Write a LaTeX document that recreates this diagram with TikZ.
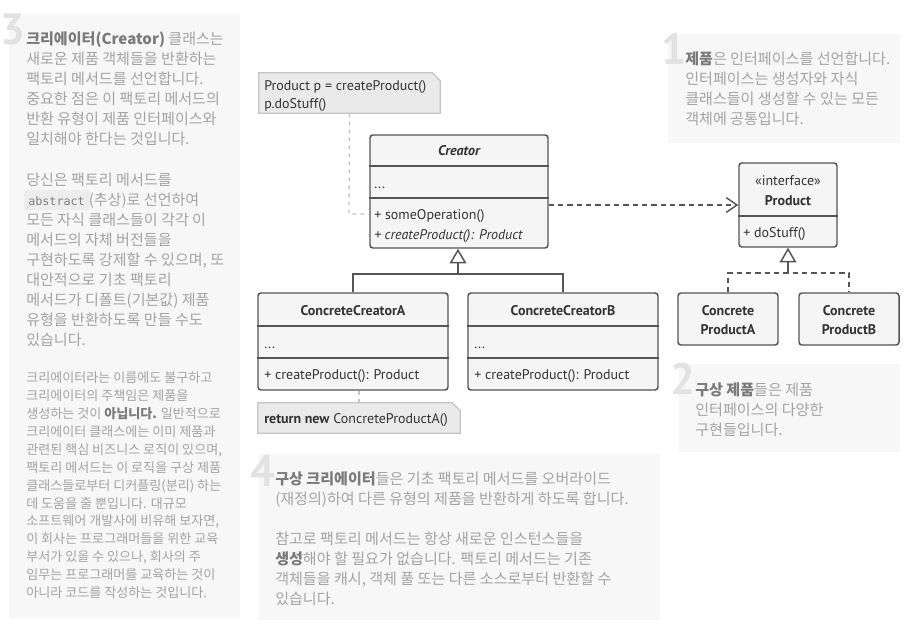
\documentclass[tikz,border=0pt]{standalone}
\usepackage{fontspec}
\setmainfont{PT Sans}
\newfontfamily\ko{Noto Sans CJK KR}
\newfontfamily\monof{DejaVu Sans Mono}
\usetikzlibrary{arrows.meta,calc}
\definecolor{panelc}{HTML}{F7F7F8}
\definecolor{numc}{HTML}{E2E2E2}
\definecolor{txtc}{HTML}{A3A3A3}
\definecolor{boldc}{HTML}{7A7A7A}
\definecolor{linec}{HTML}{555555}
\definecolor{boxc}{HTML}{F5F5F5}
\definecolor{notec}{HTML}{EAEAEA}
\definecolor{notel}{HTML}{C4C4C4}
\definecolor{umltxt}{HTML}{333333}
\newcommand{\bk}[1]{{\color{boldc}\bfseries #1}}
\tikzset{
  panel/.style={fill=panelc,draw=none},
  num/.style={anchor=base west,inner sep=0,text=numc,font=\fontsize{33pt}{33pt}\selectfont\bfseries},
  ko/.style={anchor=base west,inner sep=0,text=txtc,font=\ko\fontsize{11.3pt}{13pt}\selectfont},
  kos/.style={anchor=base west,inner sep=0,text=txtc,font=\ko\fontsize{9.8pt}{11pt}\selectfont},
  umlbox/.style={draw=linec,fill=boxc,line width=1.1pt,rounded corners=2.2pt,inner sep=0},
  divl/.style={draw=linec,line width=1.1pt},
  ut/.style={anchor=base west,inner sep=0,text=umltxt,font=\fontsize{10.5pt}{12pt}\selectfont},
  uc/.style={anchor=base,inner sep=0,text=umltxt,font=\fontsize{10.5pt}{12pt}\selectfont\bfseries},
  notebox/.style={draw=none,inner sep=0},
  noteshape/.style={fill=notec,draw=notel,line width=1pt},
  notelink/.style={draw=notel,line width=1pt,dash pattern=on 3pt off 3pt},
  inh/.style={draw=linec,line width=1.1pt},
  inhd/.style={draw=linec,line width=1.1pt,dash pattern=on 4pt off 3pt},
  tri/.style={-{Triangle[open,length=11pt,width=12.5pt,line width=1.1pt]}},
  dep/.style={draw=linec,line width=1.1pt,dash pattern=on 4pt off 3pt,-{Straight Barb[length=8pt,width=11pt,line width=1.1pt]}}
}
\begin{document}
\begin{tikzpicture}[x=0.75pt,y=-0.75pt]
\useasboundingbox (0,0) rectangle (912,628);
\fill[white] (0,0) rectangle (912,628);
% panels
\fill[panel] (9,14) rectangle (240,618);
\fill[panel] (668,34) rectangle (900,143);
\fill[panel] (679,364) rectangle (900,452);
\fill[panel] (259,454) rectangle (660,620);
% numbers
\node[num] (n3) at (0,44) {3};
\node[num] (n1) at (661,64) {1};
\node[num] (n2) at (670,394) {2};
\node[num] (n4) at (250,486) {4};
% panel 3 text
\node[ko] (p3a) at (26,44) {\bk{크리에이터(Creator)} 클래스는};
\node[ko] (p3b) at (26,64) {새로운 제품 객체들을 반환하는};
\node[ko] (p3c) at (26,84) {팩토리 메서드를 선언합니다.};
\node[ko] (p3d) at (26,104) {중요한 점은 이 팩토리 메서드의};
\node[ko] (p3e) at (26,124) {반환 유형이 제품 인터페이스와};
\node[ko] (p3f) at (26,144) {일치해야 한다는 것입니다.};
\node[ko] (p3g) at (26,185) {당신은 팩토리 메서드를};
\fill[fill=black!7,rounded corners=1.5pt] (24,190) rectangle (90,210);
\node[ko] (p3h) at (28,205) {{\monof\fontsize{8.8pt}{10pt}\selectfont\color{black!50}abstract}\hspace{3pt}(추상)로 선언하여};
\node[ko] (p3i) at (26,225) {모든 자식 클래스들이 각각 이};
\node[ko] (p3j) at (26,245) {메서드의 자체 버전들을};
\node[ko] (p3k) at (26,265) {구현하도록 강제할 수 있으며, 또};
\node[ko] (p3l) at (26,285) {대안적으로 기초 팩토리};
\node[ko] (p3m) at (26,305) {메서드가 디폴트(기본값) 제품};
\node[ko] (p3n) at (26,325) {유형을 반환하도록 만들 수도};
\node[ko] (p3o) at (26,345) {있습니다.};
% panel 3 small text
\node[kos] (s1) at (26,382) {크리에이터라는 이름에도 불구하고};
\node[kos] (s2) at (26,400) {크리에이터의 주책임은 제품을};
\node[kos] (s3) at (26,418) {생성하는 것이 \bk{아닙니다.} 일반적으로};
\node[kos] (s4) at (26,436) {크리에이터 클래스에는 이미 제품과};
\node[kos] (s5) at (26,454) {관련된 핵심 비즈니스 로직이 있으며,};
\node[kos] (s6) at (26,472) {팩토리 메서드는 이 로직을 구상 제품};
\node[kos] (s7) at (26,490) {클래스들로부터 디커플링(분리) 하는};
\node[kos] (s8) at (26,508) {데 도움을 줄 뿐입니다. 대규모};
\node[kos] (s9) at (26,525) {소프트웨어 개발사에 비유해 보자면,};
\node[kos] (s10) at (26,543) {이 회사는 프로그래머들을 위한 교육};
\node[kos] (s11) at (26,561) {부서가 있을 수 있으나, 회사의 주};
\node[kos] (s12) at (26,579) {임무는 프로그래머를 교육하는 것이};
\node[kos] (s13) at (26,597) {아니라 코드를 작성하는 것입니다.};
% panel 1
\node[ko] (p1a) at (685,64) {\bk{제품}은 인터페이스를 선언합니다.};
\node[ko] (p1b) at (685,84) {인터페이스는 생성자와 자식};
\node[ko] (p1c) at (685,104) {클래스들이 생성할 수 있는 모든};
\node[ko] (p1d) at (685,124) {객체에 공통입니다.};
% panel 2
\node[ko] (p2a) at (695,395) {\bk{구상 제품}들은 제품};
\node[ko] (p2b) at (695,415) {인터페이스의 다양한};
\node[ko] (p2c) at (695,435) {구현들입니다.};
% panel 4
\node[ko] (p4a) at (275,484) {\bk{구상 크리에이터}들은 기초 팩토리 메서드를 오버라이드};
\node[ko] (p4b) at (275,504) {(재정의)하여 다른 유형의 제품을 반환하게 하도록 합니다.};
\node[ko] (p4c) at (275,544) {참고로 팩토리 메서드는 항상 새로운 인스턴스들을};
\node[ko] (p4d) at (275,564) {\bk{생성}해야 할 필요가 없습니다. 팩토리 메서드는 기존};
\node[ko] (p4e) at (275,584) {객체들을 캐시, 객체 풀 또는 다른 소스로부터 반환할 수};
\node[ko] (p4f) at (275,604) {있습니다.};
% ---------- UML ----------
% note 1
\node[notebox,minimum width=181*0.75pt,minimum height=40*0.75pt] (note1) at (349.5,93) {};
\draw[noteshape] (note1.north west) -- ($(note1.north east)+(-8,0)$) -- ($(note1.north east)+(0,8)$) -- (note1.south east) -- (note1.south west) -- cycle;
\node[ut] (nt1a) at (264,90) {Product p = createProduct()};
\node[ut] (nt1b) at (264,108) {p.doStuff()};
% Creator
\node[umlbox,minimum width=178*0.75pt,minimum height=113*0.75pt] (creator) at (459,191.5) {};
\draw[divl] (creator.west |- 0,166) -- (creator.east |- 0,166);
\draw[divl] (creator.west |- 0,198) -- (creator.east |- 0,198);
\node[uc] (crt) at (459,155) {\itshape Creator};
\node[ut] (cra) at (374,188) {...};
\node[ut] (crm1) at (374,219) {+ someOperation()};
\node[ut] (crm2) at (374,239) {\itshape + createProduct(): Product};
% note link
\coordinate (nl) at (349,214);
\draw[notelink] (note1.south) -- (nl) -- (nl -| creator.west);
% Concrete creators
\node[umlbox,minimum width=190*0.75pt,minimum height=97*0.75pt] (cca) at (353,341.5) {};
\draw[divl] (cca.west |- 0,326) -- (cca.east |- 0,326);
\draw[divl] (cca.west |- 0,358) -- (cca.east |- 0,358);
\node[uc] (ccat) at (353,315) {ConcreteCreatorA};
\node[ut] (ccaa) at (264,348) {...};
\node[ut] (ccam) at (264,379) {+ createProduct(): Product};
\node[umlbox,minimum width=190*0.75pt,minimum height=97*0.75pt] (ccb) at (563,341.5) {};
\draw[divl] (ccb.west |- 0,326) -- (ccb.east |- 0,326);
\draw[divl] (ccb.west |- 0,358) -- (ccb.east |- 0,358);
\node[uc] (ccbt) at (563,315) {ConcreteCreatorB};
\node[ut] (ccba) at (474,348) {...};
\node[ut] (ccbm) at (474,379) {+ createProduct(): Product};
% inheritance creators
\coordinate (cj) at (458,274);
\draw[inh] (cca.north) |- (cj) -| (ccb.north);
\draw[inh,tri] (cj) -- (cj |- creator.south);
% note 2
\node[notebox,minimum width=202*0.75pt,minimum height=30*0.75pt] (note2) at (359,418) {};
\draw[noteshape] (note2.north west) -- ($(note2.north east)+(-8,0)$) -- ($(note2.north east)+(0,8)$) -- (note2.south east) -- (note2.south west) -- cycle;
\node[ut] (nt2) at (264,423) {\textbf{return new} ConcreteProductA()};
\draw[notelink] (note2.north) -- (note2.north |- cca.south);
% Product
\node[umlbox,minimum width=98*0.75pt,minimum height=84*0.75pt] (product) at (788,205) {};
\draw[divl] (product.west |- 0,216) -- (product.east |- 0,216);
\node[anchor=base,inner sep=0,text=umltxt,font=\fontsize{10.5pt}{12pt}\selectfont] (pst) at (788,185) {«interface»};
\node[uc] (pt) at (788,205) {Product};
\node[ut] (pm) at (743,237) {+ doStuff()};
% dependency
\draw[dep] (creator.east |- product.west) -- (product.west);
% concrete products
\node[umlbox,minimum width=100*0.75pt,minimum height=52*0.75pt] (cpa) at (728,319) {};
\node[uc] (cpa1) at (728,315) {Concrete};
\node[uc] (cpa2) at (728,334) {ProductA};
\node[umlbox,minimum width=100*0.75pt,minimum height=52*0.75pt] (cpb) at (849,319) {};
\node[uc] (cpb1) at (849,315) {Concrete};
\node[uc] (cpb2) at (849,334) {ProductB};
\coordinate (pj) at (788,273);
\draw[inhd] (cpa.north) |- (pj) -| (cpb.north);
\draw[inh,tri] (pj) -- (pj |- product.south);
\end{tikzpicture}
\end{document}
